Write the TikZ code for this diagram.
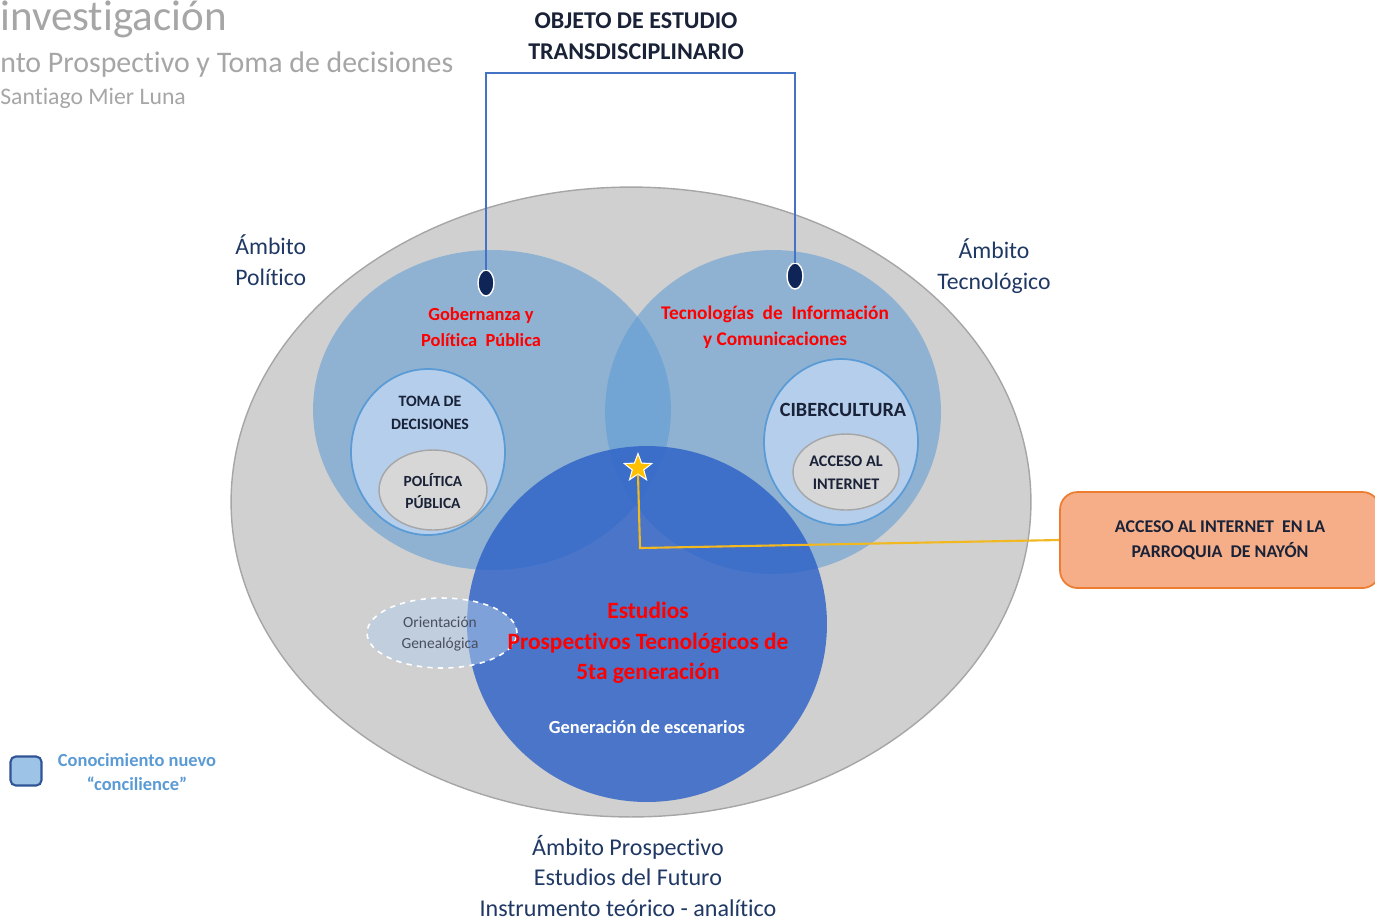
\documentclass[tikz,border=0pt]{standalone}
\usepackage{fontspec}
\setmainfont{Carlito}[Ligatures={NoCommon,NoContextual,NoRequired}]
\usetikzlibrary{shapes.geometric}
\definecolor{grayfill}{HTML}{D0D0D0}
\definecolor{grayline}{HTML}{A6A6A6}
\definecolor{ringblue}{HTML}{5B9BD5}
\definecolor{deepblue}{HTML}{2E62C8}
\definecolor{innerfill}{HTML}{B4CEEC}
\definecolor{navy}{HTML}{1F3864}
\definecolor{darktext}{HTML}{1A2238}
\definecolor{dotnavy}{HTML}{0F2557}
\definecolor{linkblue}{HTML}{4472C4}
\definecolor{starY}{HTML}{FFC000}
\definecolor{lineY}{HTML}{F2B820}
\definecolor{orangefill}{HTML}{F5AE88}
\definecolor{orangeline}{HTML}{ED7D31}
\definecolor{titlegray}{HTML}{A6A6A6}
\definecolor{legendfill}{HTML}{9DC3E6}
\definecolor{legendline}{HTML}{2F5597}
\definecolor{legendtext}{HTML}{5B9BD5}
\definecolor{redtext}{HTML}{FF0000}
\tikzset{
  circ/.style={ellipse, inner sep=0pt, outer sep=0pt},
  inner/.style={circ, fill=innerfill, draw=ringblue, line width=1pt},
  grayell/.style={circ, fill=grayfill!85!white, draw=grayline, line width=0.8pt},
  dot/.style={circ, fill=dotnavy, draw=white, line width=0.8pt, minimum width=0.32cm, minimum height=0.52cm},
  lbl/.style={align=center, inner sep=0pt, text=darktext, font=\bfseries},
  ambito/.style={align=center, inner sep=0pt, text=navy},
  redlbl/.style={align=center, inner sep=0pt, text=redtext, font=\bfseries},
}
\begin{document}
\begin{tikzpicture}[x=0.02cm,y=-0.02cm]
\useasboundingbox (0,0) rectangle (1375,921);
\fill[white] (0,0) rectangle (1375,921);
% title texts (clipped at left)
\node[anchor=base west, inner sep=0pt, text=titlegray, font=\fontsize{24.5}{28}\selectfont] (t1) at (0,30) {investigación};
\node[anchor=base west, inner sep=0pt, text=titlegray, font=\fontsize{17}{20}\selectfont] (t2) at (0,72) {nto Prospectivo y Toma de decisiones};
\node[anchor=base west, inner sep=0pt, text=titlegray, font=\fontsize{13.5}{16}\selectfont] (t3) at (0,104) {Santiago Mier Luna};
% big gray ellipse
\node[circ, fill=grayfill, draw=grayline, line width=0.8pt, minimum width=16cm, minimum height=12.6cm] (big) at (631,502) {};
% left and right circles
\node[circ, fill=ringblue, fill opacity=0.55, minimum width=7.16cm, minimum height=6.4cm] (pol) at (492,410) {};
\node[circ, fill=ringblue, fill opacity=0.55, minimum width=6.72cm, minimum height=6.48cm] (tec) at (773,412) {};
% bottom circle
\node[circ, fill=deepblue, fill opacity=0.82, minimum width=7.2cm, minimum height=7.12cm] (pro) at (647,624) {};
% inner circles
\node[inner, minimum width=3.08cm, minimum height=3.32cm] (toma) at (428,452) {};
\node[grayell, minimum width=2.16cm, minimum height=1.6cm] (pp) at (433,490) {};
\node[inner, minimum width=3.08cm, minimum height=3.32cm] (ciber) at (841,442) {};
\node[grayell, minimum width=2.12cm, minimum height=1.52cm] (acc) at (846,472) {};
% orientacion
\node[circ, fill=innerfill, fill opacity=0.5, draw=white, dashed, line width=0.9pt, minimum width=3.0cm, minimum height=1.4cm] (ori) at (442,633) {};
% labels in circles
\node[lbl, font=\bfseries\fontsize{9}{13}\selectfont] at (430,413) {TOMA DE\\DECISIONES};
\node[lbl, font=\bfseries\fontsize{8.8}{13}\selectfont] at (433,491) {POLÍTICA\\PÚBLICA};
\node[lbl, font=\bfseries\fontsize{11.5}{13}\selectfont] at (843,410) {CIBERCULTURA};
\node[lbl, font=\bfseries\fontsize{9.2}{13}\selectfont] at (846,473) {ACCESO AL\\INTERNET};
\node[align=center, inner sep=0pt, text=darktext!80, font=\fontsize{8.8}{11.5}\selectfont] at (440,634) {Orientación\\Genealógica};
\node[redlbl, font=\bfseries\fontsize{10.5}{15}\selectfont] at (481,327) {Gobernanza y\\Política~~Pública};
\node[redlbl, font=\bfseries\fontsize{11}{15}\selectfont] at (775,327) {Tecnologías~ de~ Información\\y Comunicaciones};
\node[redlbl, font=\bfseries\fontsize{13.3}{17.5}\selectfont] at (648,643) {Estudios\\Prospectivos Tecnológicos de\\5ta generación};
\node[align=center, inner sep=0pt, text=white, font=\bfseries\fontsize{10.5}{12}\selectfont] at (647,727) {Generación de escenarios};
% ambito labels
\node[ambito, align=left, anchor=west, font=\fontsize{13.5}{17.5}\selectfont] at (235,260) {Ámbito\\Político};
\node[ambito, font=\fontsize{13.5}{17.5}\selectfont] at (994,266) {Ámbito\\Tecnológico};
\node[ambito, font=\fontsize{13.7}{17.5}\selectfont] at (628,876) {Ámbito Prospectivo\\Estudios del Futuro\\Instrumento teórico - analítico};
% objeto de estudio
\node[lbl, font=\bfseries\fontsize{13.7}{17.5}\selectfont] (obj) at (636,36) {OBJETO DE ESTUDIO\\TRANSDISCIPLINARIO};
% dots and bracket
\node[dot] (d1) at (486,283) {};
\node[dot] (d2) at (795,276) {};
\coordinate (brk) at (640,73);
\draw[linkblue, line width=1pt] (d1.north) |- (brk) -| (d2.north);
% orange box
\node[draw=orangeline, fill=orangefill, line width=1pt, rounded corners=10pt, minimum width=6.4cm, minimum height=1.92cm, align=center, text=darktext, font=\bfseries\fontsize{10.2}{14}\selectfont] (box) at (1220,540) {ACCESO AL INTERNET~ EN LA\\PARROQUIA~ DE NAYÓN};
% star and yellow connector
\node[star, star points=5, star point ratio=2.4, fill=starY, draw=white, line width=0.6pt, minimum size=0.58cm, inner sep=0pt] (st) at (638,468) {};
\coordinate (bend) at (640,548);
\draw[lineY, line width=1.2pt] (st.south) -- (bend) -- (box.west);
% legend
\node[draw=legendline, fill=legendfill, line width=1.2pt, rounded corners=3pt, minimum width=0.62cm, minimum height=0.58cm, inner sep=0pt] (leg) at (26,771) {};
\node[align=center, inner sep=0pt, text=legendtext, font=\bfseries\fontsize{10.5}{13.5}\selectfont] (legt) at (137,772) {Conocimiento nuevo\\“concilience”};
\end{tikzpicture}
\end{document}
